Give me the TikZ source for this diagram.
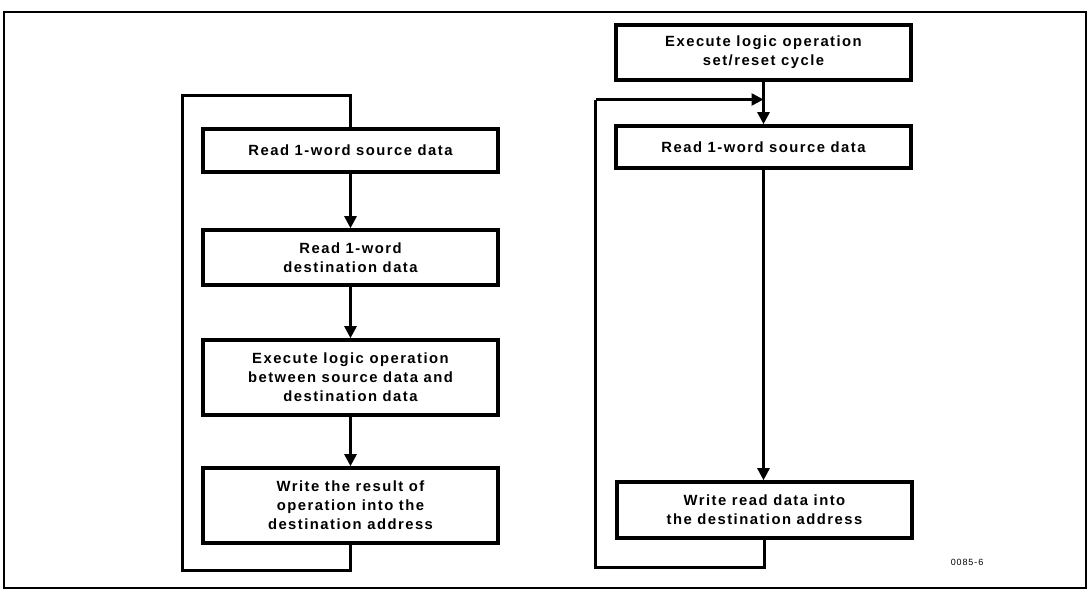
\documentclass[tikz,border=0pt]{standalone}
\usepackage{fontspec}
\setmainfont{Liberation Sans}[LetterSpace=10]
\usetikzlibrary{arrows.meta}
\tikzset{
  stepbox/.style={draw, line width=3.6pt, minimum width=295pt, align=center,
    inner sep=0pt, font=\bfseries\fontsize{14.8}{19}\selectfont},
  flow/.style={line width=2.6pt, -{Triangle[length=12pt,width=12pt]}},
  backline/.style={line width=2.6pt},
  frame/.style={line width=1.6pt}
}
\begin{document}
\begin{tikzpicture}[x=1pt,y=-1pt]
\useasboundingbox (0,0) rectangle (1092,592);
\draw[frame] (4,12) rectangle (1086,588);
% left column
\node[stepbox, minimum height=43pt] (L1) at (350.5,150.5) {Read 1-word source data};
\node[stepbox, minimum height=55pt] (L2) at (350.5,257.5) {Read 1-word\\destination data};
\node[stepbox, minimum height=75pt] (L3) at (350.5,377.5) {Execute logic operation\\between source data and\\destination data};
\node[stepbox, minimum height=75pt] (L4) at (350.5,505.5) {Write the result of\\operation into the\\destination address};
\coordinate (lb) at (182.5,570.5);
\coordinate (lt) at (182.5,95.5);
\draw[flow] (L1) -- (L2);
\draw[flow] (L2) -- (L3);
\draw[flow] (L3) -- (L4);
\draw[backline] (L4.south) |- (lb) -- (lt) -| (L1.north);
% right column
\node[stepbox, minimum height=55pt] (R1) at (763.5,52.5) {Execute logic operation\\set/reset cycle};
\node[stepbox, minimum height=42pt] (R2) at (763.5,147) {Read 1-word source data};
\node[stepbox, minimum height=56pt] (R3) at (764.5,510) {Write read data into\\the destination address};
\coordinate (rj) at (763.5,99.5);
\coordinate (rb) at (595.5,567.5);
\coordinate (rt) at (595.5,99.5);
\draw[flow] (R1) -- (R2);
\draw[flow] (R2.south) -- (R3.north -| R2.south);
\draw[backline] (R3.south) |- (rb) -- (rt);
\draw[flow] (rt) -- (rj);
\node[font=\fontsize{9}{10}\selectfont] (lab) at (967,562) {0085-6};
\end{tikzpicture}
\end{document}
